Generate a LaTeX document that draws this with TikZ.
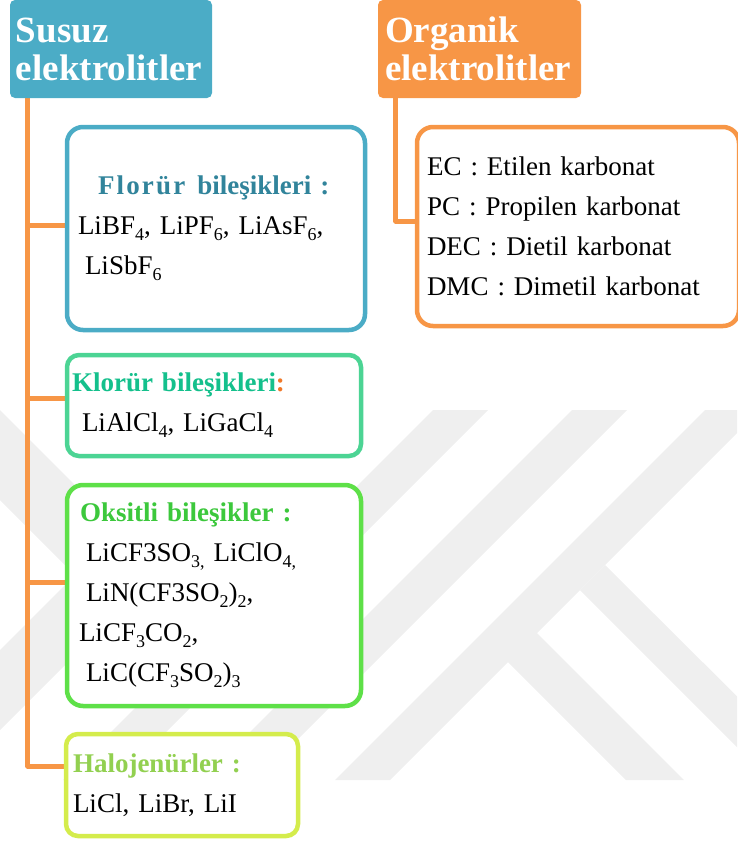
\documentclass[tikz,border=0pt]{standalone}
\usepackage{fontspec}
\setmainfont{Liberation Serif}
\usepackage{tikz}
\usetikzlibrary{calc, backgrounds}
\usepackage{xcolor}
\definecolor{hdrblue}{RGB}{75,172,198}
\definecolor{hdrorange}{RGB}{247,150,70}
\definecolor{colonorange}{RGB}{240,120,40}
\definecolor{florteal}{RGB}{49,132,155}
\definecolor{klorline}{RGB}{76,212,148}
\definecolor{klortext}{RGB}{20,192,140}
\definecolor{oksline}{RGB}{94,224,72}
\definecolor{okstext}{RGB}{60,200,60}
\definecolor{haloline}{RGB}{212,236,76}
\definecolor{halotext}{RGB}{146,208,80}
\definecolor{wmark}{RGB}{239,239,239}

\newcommand{\bodyfont}{\fontsize{27}{40}\selectfont}
\newcommand{\headfont}{\fontsize{37}{38}\selectfont\bfseries}
\newcommand{\sub}[1]{\raisebox{-6pt}{\fontsize{18}{18}\selectfont #1}}

\begin{document}
\begin{tikzpicture}[x=1pt, y=-1pt,
    header/.style={rounded corners=5pt, text=white, align=left, inner ysep=0pt, font=\headfont},
    listbox/.style={rounded corners=16pt, line width=4.5pt, fill=white,
                    align=left, inner ysep=0pt, font=\bodyfont},
    link/.style={draw=hdrorange, line width=5pt, line join=round}]

  \useasboundingbox (0,0) rectangle (737,841);

  % header boxes
  \node[header, fill=hdrblue, minimum width=202pt, minimum height=98pt,
        text width=190pt, inner xsep=6pt] (susuz) at (111,49) {Susuz\\elektrolitler};
  \node[header, fill=hdrorange, minimum width=203pt, minimum height=98pt,
        text width=189pt, inner xsep=7pt] (organik) at (479.5,49) {Organik\\elektrolitler};

  % susuz branches
  \node[listbox, draw=hdrblue, minimum width=298pt, minimum height=203pt,
        text width=276pt, inner xsep=11pt] (flor) at (216,228.5)
    {{\color{florteal}\bfseries\hspace*{20pt}{\addfontfeature{LetterSpace=8}Florür}\hspace{12pt}bileşikleri :}\\
     LiBF\sub{4}, LiPF\sub{6}, LiAsF\sub{6},\\
     \hspace*{7pt}LiSbF\sub{6}};
  \node[listbox, draw=klorline, rounded corners=12pt, minimum width=294pt, minimum height=101pt,
        text width=284pt, inner xsep=5pt] (klor) at (214,405.5)
    {{\color{klortext}\bfseries Klorür bileşikleri\textcolor{colonorange}{:}}\\
     \hspace*{10pt}LiAlCl\sub{4}, LiGaCl\sub{4}};
  \node[listbox, draw=oksline, minimum width=294pt, minimum height=221pt,
        text width=270pt, inner xsep=12pt] (oks) at (214,595.5)
    {{\color{okstext}\bfseries\hspace*{1pt}Oksitli bileşikler :}\\
     \hspace*{7pt}LiCF3SO\sub{3,} LiClO\sub{4,}\\
     \hspace*{7pt}LiN(CF3SO\sub{2})\sub{2},\\
     LiCF\sub{3}CO\sub{2},\\
     \hspace*{7pt}LiC(CF\sub{3}SO\sub{2})\sub{3}};
  \node[listbox, draw=haloline, rounded corners=12pt, minimum width=232pt, minimum height=102pt,
        text width=218pt, inner xsep=7pt] (halo) at (182,785)
    {{\color{halotext}\bfseries Halojenürler :}\\
     LiCl, LiBr, LiI};

  % organik list
  \node[listbox, draw=hdrorange, minimum width=322pt, minimum height=199pt,
        text width=302pt, inner xsep=10pt] (orgl) at (578,226.5)
    {EC : Etilen karbonat\\
     PC : Propilen karbonat\\
     DEC : Dietil karbonat\\
     DMC : Dimetil karbonat};

  % watermark
  \begin{scope}[on background layer]
    \begin{scope}
      \clip (0,410) rectangle (737,780);
      \fill[wmark] (433,410) -- (488,410) -- (118,780) -- (63,780) -- cycle;
      \fill[wmark] (572,410) -- (627,410) -- (257,780) -- (202,780) -- cycle;
      \fill[wmark] (705,410) -- (760,410) -- (390,780) -- (335,780) -- cycle;
      \fill[wmark] (503,657) -- (532,628) -- (684,780) -- (626,780) -- cycle;
      \fill[wmark] (580,590) -- (605,565) -- (800,759) -- (800,810) -- cycle;
      \fill[wmark] (0,410) -- (0,500) -- (100,600) -- (100,510) -- cycle;
      \fill[wmark] (0,650) -- (0,730) -- (100,630) -- (100,550) -- cycle;
    \end{scope}
  \end{scope}

  % connectors
  \coordinate (trunk) at ([xshift=18pt]susuz.south west);
  \coordinate (flor-in) at ([yshift=3.5pt]flor.west);
  \coordinate (klor-in) at ([yshift=7.5pt]klor.west);
  \coordinate (oks-in) at ([yshift=13.5pt]oks.west);
  \coordinate (halo-in) at ([yshift=19pt]halo.west);
  \coordinate (orgtrunk) at ([xshift=18pt]organik.south west);
  \coordinate (orgl-in) at ([yshift=5.5pt]orgl.west);
  \begin{scope}[on background layer]
    \draw[link] (trunk) |- (halo-in);
    \draw[link] (trunk |- flor-in) -- (flor-in);
    \draw[link] (trunk |- klor-in) -- (klor-in);
    \draw[link] (trunk |- oks-in) -- (oks-in);
    \draw[link] (orgtrunk) |- (orgl-in);
  \end{scope}
\end{tikzpicture}
\end{document}
